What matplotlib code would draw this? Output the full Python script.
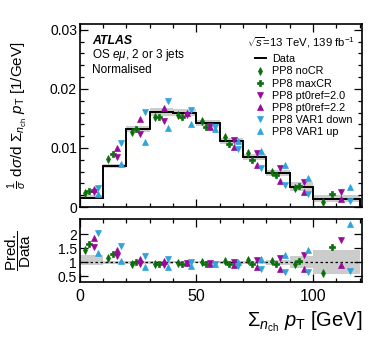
import numpy as np
import matplotlib
matplotlib.use("Agg")
import matplotlib.pyplot as plt
from matplotlib.ticker import MultipleLocator

plt.rcParams['font.family'] = ['Liberation Sans', 'DejaVu Sans']
plt.rcParams['mathtext.fontset'] = 'custom'
plt.rcParams['mathtext.rm'] = 'Liberation Sans'
plt.rcParams['mathtext.it'] = 'Liberation Sans:italic'
plt.rcParams['mathtext.bf'] = 'Liberation Sans:bold'

# bin edges and measured (normalised) data
edges = np.array([0, 10, 20, 30, 40, 50, 60, 70, 80, 90, 100, 120])
data = np.array([0.0016, 0.0069, 0.0132, 0.0161, 0.0160, 0.0142, 0.0112, 0.0085, 0.0057, 0.0034, 0.0014])
rel_up = np.array([0.28, 0.05, 0.04, 0.04, 0.035, 0.035, 0.04, 0.06, 0.09, 0.24, 0.43])
rel_dn = np.array([0.10, 0.05, 0.04, 0.04, 0.035, 0.035, 0.04, 0.06, 0.09, 0.20, 0.43])

# prediction / data ratios
noCR = [1.46, 1.17, 0.96, 0.95, 0.97, 1.02, 1.06, 1.07, 1.04, 0.94, 0.63]
maxCR = [1.66, 1.29, 1.00, 0.95, 0.95, 0.95, 0.95, 0.93, 0.96, 1.04, 1.56]
pt0ref20 = [1.55, 1.22, 0.94, 0.90, 0.97, 0.97, 1.02, 1.08, 1.16, 1.25, 1.80]
pt0ref22 = [1.86, 1.44, 1.13, 1.04, 0.99, 0.95, 0.90, 0.84, 0.78, 0.75, 0.92]
var1dn = [2.05, 1.58, 1.22, 1.12, 1.03, 0.95, 0.87, 0.78, 0.66, 0.65, 0.68]
var1up = [1.35, 1.05, 0.84, 0.83, 0.88, 0.93, 1.00, 1.12, 1.25, 1.45, 2.37]

green = '#0a6e0a'
purple = '#9a0a9a'
blue = '#2fa4dc'
series = [
    ("PP8 noCR", noCR, 'd', green, 0.22, 4.2),
    ("PP8 maxCR", maxCR, 'P', green, 0.40, 4.2),
    ("PP8 pt0ref=2.0", pt0ref20, 'v', purple, 0.60, 4.0),
    ("PP8 pt0ref=2.2", pt0ref22, '^', purple, 0.60, 4.0),
    ("PP8 VAR1 down", var1dn, 'v', blue, 0.78, 4.0),
    ("PP8 VAR1 up", var1up, '^', blue, 0.78, 4.0),
]

fig = plt.figure(figsize=(3.82, 3.46), dpi=100)
ax = fig.add_axes([0.209, 0.4017, 0.739, 0.529])
rax = fig.add_axes([0.209, 0.185, 0.739, 0.182])

lo = edges[:-1]
w = np.diff(edges)

# uncertainty bands
ax.bar(lo, data * (rel_up + rel_dn), bottom=data * (1 - rel_dn), width=w, align='edge',
       color='#cccccc', lw=0, zorder=1)
rax.bar(lo, rel_up + rel_dn, bottom=1 - rel_dn, width=w, align='edge',
        color='#cccccc', lw=0, zorder=1)

handles = []
ax.stairs(data, edges, color='black', lw=1.4, zorder=2)
line, = ax.plot([], [], color='black', lw=1.4, label='Data')
handles.append(line)

for name, r, m, c, f, ms in series:
    r = np.array(r)
    x = lo + f * w
    p, = ax.plot(x, r * data, ls='none', marker=m, color=c, ms=ms, mew=0.5, zorder=3, label=name)
    rax.plot(x, r, ls='none', marker=m, color=c, ms=ms, mew=0.5, zorder=3)
    handles.append(p)

rax.axhline(1.0, color='black', ls=(0, (2, 2)), lw=0.9, zorder=2)

ax.set_xlim(0, 121)
ax.set_ylim(0, 0.031)
rax.set_xlim(0, 121)
rax.set_ylim(0.3, 2.55)

for a in (ax, rax):
    a.xaxis.set_major_locator(MultipleLocator(50))
    a.xaxis.set_minor_locator(MultipleLocator(10))
    a.tick_params(which='both', direction='in', top=True, right=True, width=0.9)
    a.tick_params(which='major', length=6)
    a.tick_params(which='minor', length=3)
    a.tick_params(axis='y', labelsize=10, pad=2)
    a.tick_params(axis='x', labelsize=11.5, pad=5)
    for s in a.spines.values():
        s.set_linewidth(1.2)

ax.yaxis.set_minor_locator(MultipleLocator(0.002))
ax.set_yticks([0, 0.01, 0.02, 0.03])
ax.set_yticklabels(['0', '0.01', '0.02', '0.03'])
ax.tick_params(axis='x', labelbottom=False)
rax.set_yticks([0.5, 1, 1.5, 2])
rax.set_yticklabels(['0.5', '1', '1.5', '2'])

ax.set_ylabel(r'$\frac{1}{\sigma}$ d$\sigma$/d $\Sigma_{n_{\mathrm{ch}}}$ $p_{\mathrm{T}}$ [1/GeV]',
              fontsize=11)
ax.yaxis.set_label_coords(-0.175, 0.5)
rax.set_ylabel(r'$\dfrac{\mathrm{Pred.}}{\mathrm{Data}}$', fontsize=11)
rax.yaxis.set_label_coords(-0.165, 0.5)
rax.set_xlabel(r'$\Sigma_{n_{\mathrm{ch}}}$ $p_{\mathrm{T}}$ [GeV]', fontsize=14.5, ha='right', x=1.0)

ax.text(0.043, 0.905, 'ATLAS', transform=ax.transAxes, fontsize=8.8,
        fontweight='bold', fontstyle='italic', va='center')
ax.text(0.043, 0.83, r'OS $e\mu$, 2 or 3 jets', transform=ax.transAxes, fontsize=8.5, va='center')
ax.text(0.043, 0.75, 'Normalised', transform=ax.transAxes, fontsize=8.5, va='center')
ax.text(0.975, 0.90, r'$\sqrt{s}$=13 TeV, 139 fb$^{-1}$', transform=ax.transAxes,
        fontsize=8.2, ha='right', va='center')

ax.legend(handles=handles, loc='upper left', bbox_to_anchor=(0.62, 0.835), frameon=False,
          fontsize=7.8, handlelength=1.0, handletextpad=0.6, labelspacing=0.2,
          borderpad=0, borderaxespad=0)

fig.savefig('out.png', dpi=100)
